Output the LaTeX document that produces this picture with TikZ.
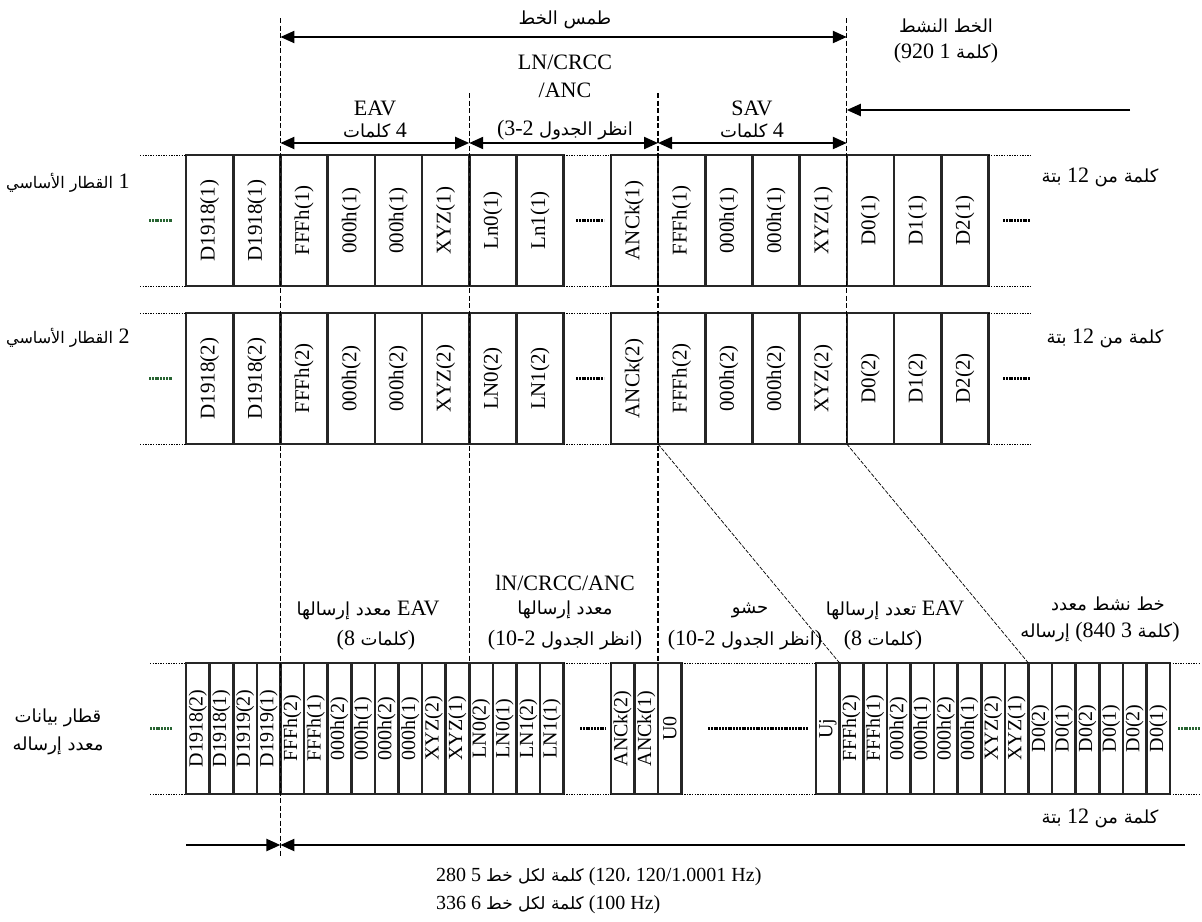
\documentclass[tikz,border=0pt]{standalone}
\usepackage{fontspec}
\setmainfont{Liberation Serif}
\newfontfamily\arabicfont[Script=Arabic]{DejaVu Sans}
\TeXXeTstate=1
\usetikzlibrary{arrows.meta}
\newcommand\ar[1]{{\arabicfont\fontsize{18}{20}\selectfont\beginR #1\endR}}
\newcommand\arsm[1]{{\arabicfont\fontsize{17}{19}\selectfont\beginR #1\endR}}
\newcommand\arxs[1]{{\arabicfont\fontsize{16}{18}\selectfont\beginR #1\endR}}
\definecolor{dgreen}{RGB}{40,100,50}
\tikzset{
 cell/.style={draw=black!85, line width=2.6pt, rotate=90, minimum width=131pt, minimum height=47.2pt, inner sep=0pt, font=\fontsize{21}{21}\selectfont},
 hcell/.style={cell, minimum height=23.6pt, font=\fontsize{20}{20}\selectfont},
 dots/.style={line width=1pt, dash pattern=on 1.3pt off 1.3pt},
 guide/.style={line width=1.1pt, dash pattern=on 5pt off 2.5pt},
 diag/.style={line width=0.7pt, dash pattern=on 4pt off 1.5pt},
 gapdash/.style={line width=2.6pt, dash pattern=on 2pt off 0.8pt},
 gdash/.style={gapdash, draw=dgreen},
 dim/.style={line width=2.2pt, {Triangle[length=14pt,width=12pt]}-{Triangle[length=14pt,width=12pt]}},
 onedim/.style={line width=2.2pt, -{Triangle[length=14pt,width=12pt]}},
 lbl/.style={font=\fontsize{22}{24}\selectfont, inner sep=0pt},
 slbl/.style={font=\fontsize{20}{22}\selectfont, inner sep=0pt},
}
\begin{document}
\begin{tikzpicture}[x=1pt,y=-1pt]
\useasboundingbox (0,0) rectangle (1202,921);
% ---------- row 1
\foreach \t [count=\i from 0] in {D1918(1),D1918(1),FFFh(1),000h(1),000h(1),XYZ(1),Ln0(1),Ln1(1)}
  \node[cell] (r1a\i) at ({209.6+\i*47.2},220.5) {\t};
\foreach \t [count=\i from 0] in {ANCk(1),FFFh(1),000h(1),000h(1),XYZ(1),D0(1),D1(1),D2(1)}
  \node[cell] (r1b\i) at ({634.4+\i*47.2},220.5) {\t};
% ---------- row 2
\foreach \t [count=\i from 0] in {D1918(2),D1918(2),FFFh(2),000h(2),000h(2),XYZ(2),LN0(2),LN1(2)}
  \node[cell] (r2a\i) at ({209.6+\i*47.2},378.5) {\t};
\foreach \t [count=\i from 0] in {ANCk(2),FFFh(2),000h(2),000h(2),XYZ(2),D0(2),D1(2),D2(2)}
  \node[cell] (r2b\i) at ({634.4+\i*47.2},378.5) {\t};
% ---------- row 3
\foreach \t [count=\i from 0] in {D1918(2),D1918(1),D1919(2),D1919(1),FFFh(2),FFFh(1),000h(2),000h(1),000h(2),000h(1),XYZ(2),XYZ(1),LN0(2),LN0(1),LN1(2),LN1(1)}
  \node[hcell] (r3a\i) at ({197.8+\i*23.6},728.5) {\t};
\foreach \t [count=\i from 0] in {ANCk(2),ANCk(1),U0}
  \node[hcell] (r3b\i) at ({622.6+\i*23.6},728.5) {\t};
\foreach \t [count=\i from 0] in {Uj,FFFh(2),FFFh(1),000h(2),000h(1),000h(2),000h(1),XYZ(2),XYZ(1),D0(2),D0(1),D0(2),D0(1),D0(2),D0(1)}
  \node[hcell] (r3c\i) at ({827.8+\i*23.6},728.5) {\t};
% ---------- dotted continuation lines
\foreach \ya/\yb in {155/286,313/444}{
  \draw[dots] (140,\ya) -- (186,\ya); \draw[dots] (140,\yb) -- (186,\yb);
  \draw[dots] (563.6,\ya) -- (610.8,\ya); \draw[dots] (563.6,\yb) -- (610.8,\yb);
  \draw[dots] (988.4,\ya) -- (1031,\ya); \draw[dots] (988.4,\yb) -- (1031,\yb);
}
\foreach \y in {663,794}{
  \draw[dots] (150,\y) -- (186,\y);
  \draw[dots] (563.6,\y) -- (610.8,\y);
  \draw[dots] (681.6,\y) -- (816,\y);
  \draw[dots] (1170,\y) -- (1200,\y);
}
% ---------- gap dashes
\foreach \y in {220.5,378.5}{
  \draw[gdash] (149,\y) -- (172,\y);
  \draw[gapdash] (576,\y) -- (604,\y);
  \draw[gapdash] (1003,\y) -- (1030,\y);
}
\draw[gdash] (150,728.5) -- (172,728.5);
\draw[gapdash] (580,728.5) -- (606,728.5);
\draw[gapdash] (708,728.5) -- (808,728.5);
\draw[gdash] (1178,728.5) -- (1200,728.5);
% ---------- guide lines
\coordinate (g1t) at (280.4,18);  \coordinate (g1b) at (280.4,857);
\coordinate (g2t) at (469.2,93);  \coordinate (g2b) at (469.2,663);
\coordinate (g3t) at (658,93);    \coordinate (g3b) at (658,663);
\coordinate (g4t) at (846.8,18);  \coordinate (g4b) at (846.8,444);
\draw[guide] (g1t) -- (g1b);
\draw[guide] (g2t) -- (g2b);
\draw[guide] (g3t) -- (g3b);
\draw[guide] (g4t) -- (g4b);
% ---------- diagonals
\coordinate (d1a) at (658,444);   \coordinate (d1b) at (839.6,663);
\coordinate (d2a) at (846.8,444); \coordinate (d2b) at (1028.4,663);
\draw[diag] (d1a) -- (d1b);
\draw[diag] (d2a) -- (d2b);
% ---------- dimension arrows
\coordinate (a1l) at (280.4,37); \coordinate (a1r) at (846.8,37);
\draw[dim] (a1l) -- (a1r);
\coordinate (a2a) at (280.4,143); \coordinate (a2b) at (469.2,143);
\coordinate (a2c) at (658,143);   \coordinate (a2d) at (846.8,143);
\draw[dim] (a2a) -- (a2b);
\draw[dim] (a2b) -- (a2c);
\draw[dim] (a2c) -- (a2d);
\coordinate (a3s) at (1130,110); \coordinate (a3e) at (846.8,110);
\draw[onedim] (a3s) -- (a3e);
\coordinate (a4s) at (186,845); \coordinate (a4m) at (280.4,845); \coordinate (a4e) at (1185,845);
\draw[onedim] (a4s) -- (a4m);
\draw[onedim] (a4e) -- (a4m);
% ---------- top labels
\node[lbl] (tblank) at (565,20) {\ar{طمس الخط}};
\node[lbl] (tln) at (565,62) {LN/CRCC};
\node[lbl] (tanc) at (565,90) {/ANC};
\node[lbl] (teav) at (375,108) {EAV};
\node[lbl] (teavw) at (375,130) {\ar{كلمات} 4};
\node[lbl] (ttab) at (565,130) {(3-2 \ar{انظر الجدول}};
\node[lbl] (tsav) at (752,108) {SAV};
\node[lbl] (tsavw) at (752,130) {\ar{كلمات} 4};
\node[lbl] (tact) at (946,26) {\ar{الخط النشط}};
\node[lbl] (tactw) at (946,53) {(920 1 \ar{كلمة})};
% ---------- row labels
\node[lbl, anchor=west] (l1) at (6,183) {\arxs{القطار الأساسي} 1};
\node[lbl, anchor=west] (l2) at (6,338) {\arxs{القطار الأساسي} 2};
\node[lbl] (w1) at (1100,177) {\ar{بتة} 12 \ar{كلمة من}};
\node[lbl] (w2) at (1105,338) {\ar{بتة} 12 \ar{كلمة من}};
\node[lbl] (l3a) at (58,718) {\ar{قطار بيانات}};
\node[lbl] (l3b) at (58,746) {\ar{معدد إرساله}};
% ---------- row 3 labels
\node[lbl] (m1a) at (368,610) {\ar{معدد إرسالها} EAV};
\node[lbl] (m1b) at (376,640) {(8 \ar{كلمات})};
\node[lbl] (m2a) at (565,583) {lN/CRCC/ANC};
\node[lbl] (m2b) at (565,610) {\ar{معدد إرسالها}};
\node[lbl] (m2c) at (565,640) {(10-2 \ar{انظر الجدول})};
\node[lbl] (m3a) at (750,610) {\ar{حشو}};
\node[lbl] (m3b) at (745,640) {(10-2 \ar{انظر الجدول})};
\node[lbl] (m4a) at (895,610) {\ar{تعدد إرسالها} EAV};
\node[lbl] (m4b) at (883,640) {(8 \ar{كلمات})};
\node[lbl] (m5a) at (1108,604) {\ar{خط نشط معدد}};
\node[lbl] (m5b) at (1100,632) {\ar{إرساله} (840 3 \ar{كلمة})};
% ---------- bottom labels
\node[lbl] (bw) at (1100,818) {\ar{بتة} 12 \ar{كلمة من}};
\node[slbl, anchor=west] (b1) at (436,877) {280 5 \arsm{كلمة لكل خط} (120\arsm{،} 120/1.0001 Hz)};
\node[slbl, anchor=west] (b2) at (436,905) {336 6 \arsm{كلمة لكل خط} (100 Hz)};
\end{tikzpicture}
\end{document}
